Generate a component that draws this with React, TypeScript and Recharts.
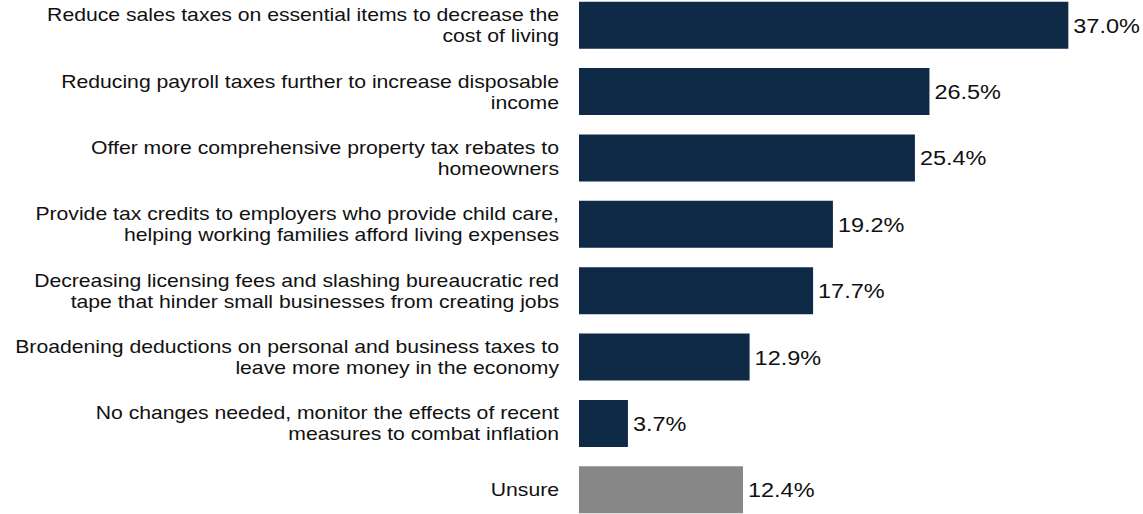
import { BarChart, Bar, XAxis, YAxis, Cell, LabelList } from "recharts"

const categories = [
  "Reduce sales taxes on essential items to decrease the\ncost of living",
  "Reducing payroll taxes further to increase disposable\nincome",
  "Offer more comprehensive property tax rebates to\nhomeowners",
  "Provide tax credits to employers who provide child care,\nhelping working families afford living expenses",
  "Decreasing licensing fees and slashing bureaucratic red\ntape that hinder small businesses from creating jobs",
  "Broadening deductions on personal and business taxes to\nleave more money in the economy",
  "No changes needed, monitor the effects of recent\nmeasures to combat inflation",
  "Unsure",
]

const values = [37.0, 26.5, 25.4, 19.2, 17.7, 12.9, 3.7, 12.4]

const NAVY = "#0e2a47"
const GRAY = "#878787"
const FONT = "'Liberation Sans', Arial, sans-serif"
const STRETCH = 1.145 // the source text is a bit wider than plain Arial

const data = categories.map((name, i) => ({
  name,
  value: values[i],
  fill: name === "Unsure" ? GRAY : NAVY,
}))

function WrappedTick(props: any) {
  const { x, y, payload } = props
  const lines: string[] = String(payload.value).split("\n")
  const lineH = 21
  const start = -((lines.length - 1) * lineH) / 2
  return (
    <g transform={`translate(${x},${y}) scale(${STRETCH},1)`}>
      <text x={0} y={0} textAnchor="end" fill="#111" fontSize={18.5} fontFamily={FONT}>
        {lines.map((line, i) => (
          <tspan key={i} x={0} y={start + i * lineH} dominantBaseline="central">
            {line}
          </tspan>
        ))}
      </text>
    </g>
  )
}

function ValueLabel(props: any) {
  const { x, y, width, height, value } = props
  const lx = Number(x) + Number(width) + 5
  const ly = Number(y) + Number(height) / 2 + 0.5
  return (
    <g transform={`translate(${lx},${ly}) scale(${STRETCH},1)`}>
      <text x={0} y={0} dominantBaseline="central" fill="#111" fontSize={20.5} fontFamily={FONT}>
        {`${Number(value).toFixed(1)}%`}
      </text>
    </g>
  )
}

export default function App() {
  return (
    <div style={{ position: "absolute", left: 0, top: -8 }}>
      <BarChart
        width={1143}
        height={531}
        data={data}
        layout="vertical"
        margin={{ top: 0, right: 35, bottom: 0, left: 0 }}
        barCategoryGap="14.6%"
      >
        <XAxis type="number" domain={[0, 40]} hide />
        <YAxis
          type="category"
          dataKey="name"
          width={579}
          axisLine={false}
          tickLine={false}
          tickSize={0}
          tickMargin={20}
          interval={0}
          tick={<WrappedTick />}
        />
        <Bar dataKey="value" isAnimationActive={false}>
          {data.map((d, i) => (
            <Cell key={`cell-${i}`} fill={d.fill} />
          ))}
          <LabelList dataKey="value" content={<ValueLabel />} />
        </Bar>
      </BarChart>
    </div>
  )
}
